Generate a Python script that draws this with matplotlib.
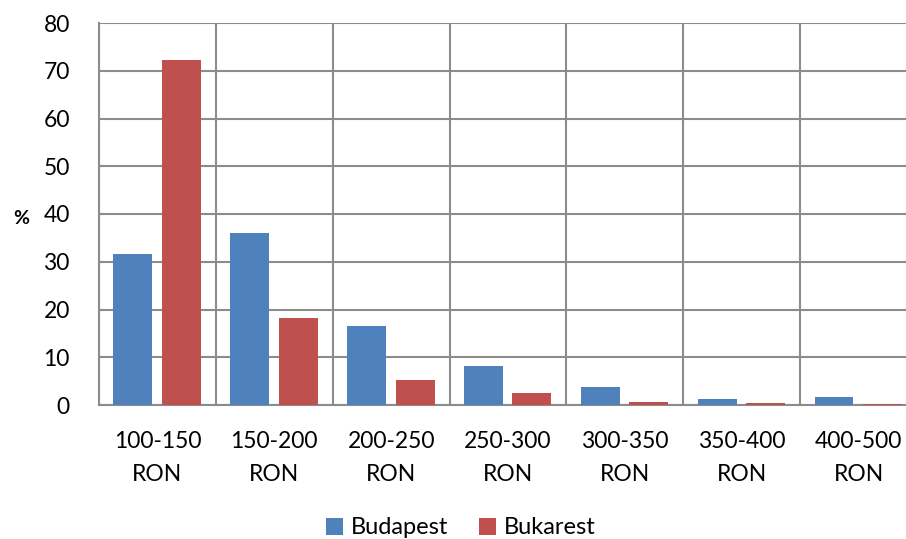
import matplotlib
matplotlib.use("Agg")
import matplotlib.pyplot as plt
import numpy as np

categories = ["100-150\nRON", "150-200\nRON", "200-250\nRON", "250-300\nRON",
              "300-350\nRON", "350-400\nRON", "400-500\nRON"]
budapest = [31.6, 36.0, 16.6, 8.1, 3.8, 1.3, 1.7]
bukarest = [72.2, 18.3, 5.3, 2.6, 0.7, 0.5, 0.3]
yticks = [0, 10, 20, 30, 40, 50, 60, 70, 80]

plt.rcParams['font.family'] = ['Lato', 'DejaVu Sans']

W, H = 906, 539
fig = plt.figure(figsize=(W/100, H/100), dpi=100)
left, right, top, bottom = 99, 917, 23, 405
ax = fig.add_axes([left/W, 1-bottom/H, (right-left)/W, (bottom-top)/H])

x = np.arange(len(categories))
bw = 0.333
blue = "#4f81bd"
red = "#c0504d"
ax.bar(x - 0.21, budapest, width=bw, color=blue, label="Budapest", zorder=3)
ax.bar(x + 0.205, bukarest, width=bw, color=red, label="Bukarest", zorder=3)

ax.set_xlim(-0.5, len(categories) - 0.5)
ax.set_ylim(0, 80)
ax.set_yticks(yticks)
ax.set_yticklabels([str(v) for v in yticks], fontsize=16.5)
ax.set_xticks(x)
ax.set_xticklabels(categories, fontsize=16.5, linespacing=1.68)
ax.tick_params(axis='both', length=0)
ax.tick_params(axis='y', pad=21)
ax.tick_params(axis='x', pad=19)

gc = "#8c8c8c"
ax.set_xticks(np.arange(-0.5, len(categories)), minor=True)
ax.tick_params(axis='x', which='minor', length=0)
ax.grid(axis='y', color=gc, linewidth=1.5, zorder=0)
ax.grid(axis='x', which='minor', color=gc, linewidth=1.5, zorder=0)
ax.grid(axis='x', which='major', visible=False)
for s in ['top', 'right']:
    ax.spines[s].set_visible(False)
for s in ['left', 'bottom']:
    ax.spines[s].set_color(gc)
    ax.spines[s].set_linewidth(1.5)

fig.text(21/W, 1-219/H, "%", fontsize=14, fontweight='bold', ha='center', va='center')

leg = fig.legend(loc='center', bbox_to_anchor=(461/W, 1-528/H), ncol=2, frameon=False,
                 fontsize=17, handlelength=0.7, handleheight=0.7, handletextpad=0.35,
                 columnspacing=1.3)

fig.savefig("out.png", dpi=100)
